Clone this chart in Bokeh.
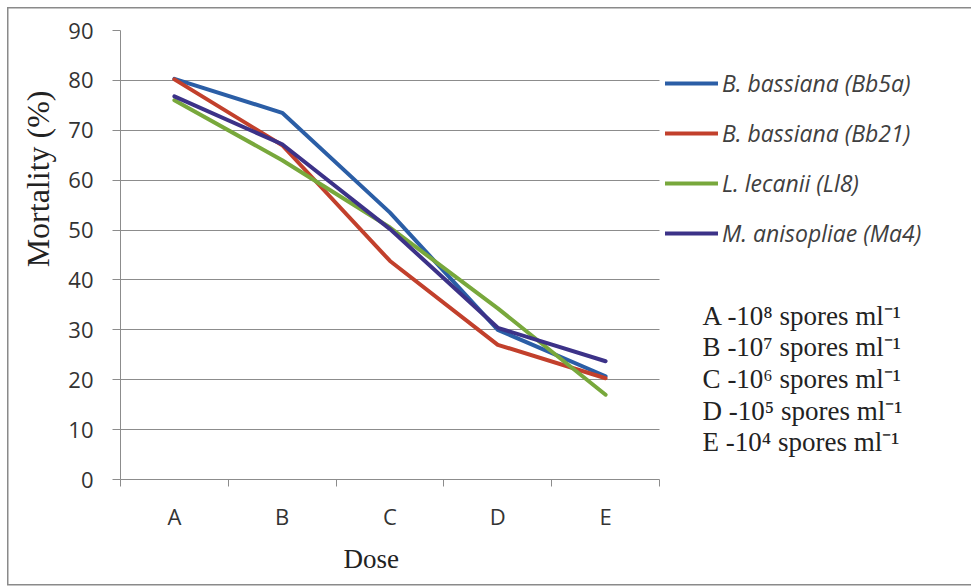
from bokeh.plotting import figure
from bokeh.models import (Range1d, FixedTicker, Legend, LegendItem, Label, Title)
from bokeh.embed import file_html
from bokeh.resources import INLINE

# ---- data ----
doses = ["A", "B", "C", "D", "E"]
bb5a = [80.3, 73.5, 53.5, 30.0, 20.7]
bb21 = [80.2, 67.0, 43.8, 27.0, 20.3]
ll8 = [76.0, 64.0, 50.5, 34.3, 17.0]
ma4 = [76.8, 67.2, 50.2, 30.4, 23.7]
series_names = ["B. bassiana (Bb5a)", "B. bassiana (Bb21)", "L. lecanii (Ll8)", "M. anisopliae (Ma4)"]
series_values = [bb5a, bb21, ll8, ma4]
series_colors = ["#2B5EA6", "#C2402C", "#78A83C", "#3C3288"]
y_ticks = [0, 10, 20, 30, 40, 50, 60, 70, 80, 90]
dose_notes = ["A -10\u2078 spores ml\u207b\u00b9",
              "B -10\u2077 spores ml\u207b\u00b9",
              "C -10\u2076 spores ml\u207b\u00b9",
              "D -10\u2075 spores ml\u207b\u00b9",
              "E -10\u2074 spores ml\u207b\u00b9"]

n = len(doses)
xs = [i + 0.5 for i in range(n)]

# frame spans the whole right side so that legend and notes are inside it;
# grid and axis are bounded to the data region 0..n
frame_left, frame_right, data_right = 120, 965, 659
frame_top, frame_bottom = 30, 479
x_end = n * (frame_right - frame_left) / (data_right - frame_left)
px_per_y = (frame_bottom - frame_top) / 90

border = ("linear-gradient(#8A8A8A,#8A8A8A) 7px 7px / 1.5px 578px no-repeat, "
          "linear-gradient(#8A8A8A,#8A8A8A) 7px 7px / 100% 1.5px no-repeat, "
          "linear-gradient(#8A8A8A,#8A8A8A) 7px 584px / 100% 1.5px no-repeat, white")

p = figure(width=971, height=588, output_backend="svg", toolbar_location=None,
           x_range=Range1d(0, x_end), y_range=Range1d(0, 90),
           min_border_left=frame_left, min_border_right=971 - frame_right,
           min_border_top=frame_top, min_border_bottom=588 - frame_bottom)
p.styles = {"background": border}
p.outline_line_color = None
p.background_fill_alpha = 0
p.border_fill_alpha = 0

grid_col = "#8C8C8C"
tick_font = "Open Sans"
# y axis
p.yaxis.ticker = FixedTicker(ticks=y_ticks, minor_ticks=[])
p.yaxis.axis_line_color = grid_col
p.yaxis.major_tick_line_color = grid_col
p.yaxis.major_tick_in = 0
p.yaxis.major_tick_out = 8
p.yaxis.major_label_standoff = 19
p.yaxis.major_label_text_font = tick_font
p.yaxis.major_label_text_font_size = "22px"
p.yaxis.major_label_text_color = "#333333"

ytitle = Title(text="Mortality (%)", align="right", offset=60, vertical_align="top", standoff=16,
               text_font="Liberation Serif", text_font_style="normal", text_font_size="32px",
               text_color="#222222")
p.add_layout(ytitle, "left")

# x axis: labels at category centres, ticks at boundaries
p.xaxis.bounds = (0, n)
p.xaxis.ticker = FixedTicker(ticks=xs, minor_ticks=list(range(n + 1)))
p.xaxis.major_label_overrides = {x: d for x, d in zip(xs, doses)}
p.xaxis.axis_line_color = grid_col
p.xaxis.major_tick_line_color = None
p.xaxis.major_tick_out = 0
p.xaxis.major_tick_in = 0
p.xaxis.minor_tick_line_color = grid_col
p.xaxis.minor_tick_out = 7
p.xaxis.minor_tick_in = 0
p.xaxis.major_label_standoff = 14
p.xaxis.major_label_text_font = tick_font
p.xaxis.major_label_text_font_size = "22px"
p.xaxis.major_label_text_color = "#333333"

xtitle = Title(text="Dose", align="left", offset=223, vertical_align="top", standoff=20,
               text_font="Liberation Serif", text_font_style="normal", text_font_size="27px",
               text_color="#222222")
p.add_layout(xtitle, "below")

p.xgrid.visible = False
p.ygrid.ticker = FixedTicker(ticks=y_ticks)
p.ygrid.cross_bounds = (0, n)
p.ygrid.grid_line_color = grid_col
p.ygrid.grid_line_width = 1

renderers = []
for vals, col in zip(series_values, series_colors):
    r = p.line(xs, vals, line_width=4, line_color=col, line_join="round", line_cap="round")
    renderers.append(r)

legend = Legend(items=[LegendItem(label=nm, renderers=[r]) for nm, r in zip(series_names, renderers)],
                location=(545, 230), glyph_width=53, glyph_height=20, label_height=20,
                label_standoff=4, spacing=18, padding=0, margin=0,
                border_line_alpha=0, background_fill_alpha=0,
                label_text_font="Open Sans", label_text_font_style="italic",
                label_text_font_size="23px", label_text_color="#404040")
p.add_layout(legend)

# dose annotations
note_x = 5.4
for i, t in enumerate(dose_notes):
    ypx = 315 + i * 31.7
    p.add_layout(Label(x=note_x, y=(frame_bottom - ypx) / px_per_y, text=t,
                       text_baseline="middle", text_align="left",
                       text_font="Liberation Serif", text_font_size="27px", text_color="#222222"))

open("out.html", "w").write(file_html(p, INLINE))
